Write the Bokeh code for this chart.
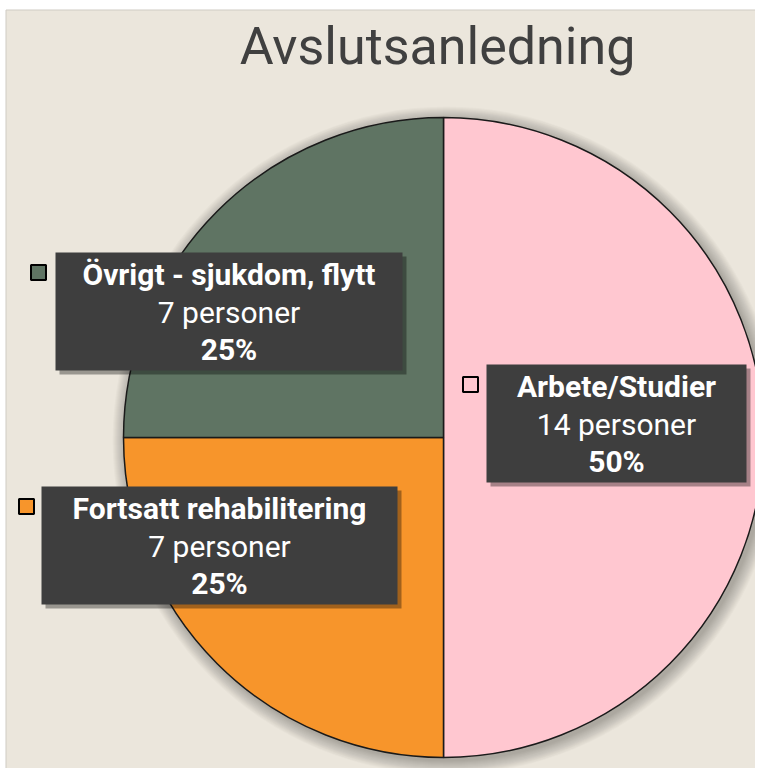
import numpy as np
from bokeh.plotting import figure
from bokeh.models import Range1d, ColumnDataSource
from bokeh.core.properties import value
from bokeh.embed import file_html
from bokeh.resources import INLINE

# ---- data ----
title_text = "Avslutsanledning"
categories = ["Arbete/Studier", "Fortsatt rehabilitering", "Övrigt - sjukdom, flytt"]
counts = [14, 7, 7]
percent_labels = ["50%", "25%", "25%"]
colors = ["#FFC7D0", "#F7952B", "#5F7463"]

# ---- layout (pixel coordinates from the top-left, converted below) ----
W, H = 755, 768
def sy(y):
    return H - y

cx, cy, R = 443, 437, 320
# label boxes: left, top, right, bottom
boxes = [(486, 364, 746, 482), (41, 486, 397, 604), (55, 252, 402, 370)]
keys = [(470, 384), (26, 506), (38, 272)]
FONT = "Roboto"

p = figure(width=W, height=H, x_range=Range1d(0, W), y_range=Range1d(0, H),
           output_backend="svg", toolbar_location=None, min_border=0,
           background_fill_color="white", border_fill_color="white")
p.axis.visible = False
p.grid.visible = False
p.outline_line_color = None

# chart area
p.quad(left=5.5, right=W + 2, top=sy(9.5), bottom=-2, fill_color="#EBE6DC",
       line_color="#CFCBC3", line_width=1)

# soft shadow around pie
for k in range(1, 15):
    p.circle(x=cx + 3, y=sy(cy + 3), radius=R + k, fill_color="black", fill_alpha=0.02, line_color=None)

# wedges from the data
total = float(sum(counts))
fracs = np.array(counts) / total
ends = np.pi / 2 - 2 * np.pi * np.cumsum(fracs)
starts = np.concatenate([[np.pi / 2], ends[:-1]])
src = ColumnDataSource(dict(start=starts, end=ends, color=colors))
p.wedge(x=cx, y=sy(cy), radius=R, start_angle="start", end_angle="end", direction="clock",
        fill_color="color", line_color="#1A1A1A", line_width=1.5, source=src)

# labels
offsets = [22, 60, 97]
for i, (l, t, r, b) in enumerate(boxes):
    p.quad(left=l + 4, right=r + 4, top=sy(t + 4), bottom=sy(b + 4), fill_color="black",
           fill_alpha=0.35, line_color=None)
    p.quad(left=l, right=r, top=sy(t), bottom=sy(b), fill_color="#3E3E3E", line_color=None)
    kx, ky = keys[i]
    p.rect(x=kx, y=sy(ky), width=15, height=15, fill_color=colors[i], line_color="black", line_width=2)
    xc = (l + r) / 2
    lines = [categories[i], f"{counts[i]} personer", percent_labels[i]]
    styles = ["bold", "normal", "bold"]
    for j, (txt, st) in enumerate(zip(lines, styles)):
        p.text(x=[xc], y=[sy(t + offsets[j])], text=[txt], text_align="center",
               text_baseline="alphabetic", text_color="white", text_font=value(FONT),
               text_font_size="30px", text_font_style=st)

p.text(x=[437], y=[sy(46)], text=[title_text], text_align="center", text_baseline="alphabetic",
       text_color="#404040", text_font=value(FONT), text_font_size="52px")

open("out.html", "w").write(file_html(p, INLINE))
